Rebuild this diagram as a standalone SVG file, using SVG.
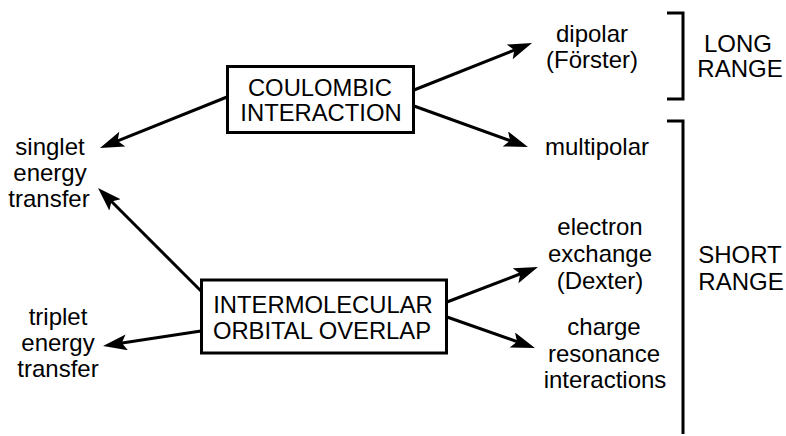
<svg xmlns="http://www.w3.org/2000/svg" width="786" height="436" viewBox="0 0 786 436">
<style>
text{font-family:"Liberation Sans",Arial,sans-serif;font-size:24px;fill:#000;text-anchor:middle}
.box{fill:#fff;stroke:#000;stroke-width:3}
.bt{font-size:23.8px}
.ln{stroke:#000;stroke-width:3;fill:none}
.ar{stroke:#000;stroke-width:3;fill:none;marker-end:url(#ah)}
</style>
<defs>
<marker id="ah" markerUnits="userSpaceOnUse" markerWidth="26" markerHeight="18" refX="13" refY="8" orient="auto" viewBox="0 0 26 18">
<path d="M0,0 L24,8 L0,16 L5,8 z" fill="#000"/>
</marker>
</defs>
<g id="connectors">
<line class="ar" x1="227" y1="97" x2="110.2" y2="143.9"/>
<line class="ar" x1="201" y1="291" x2="105.8" y2="195.8"/>
<line class="ar" x1="201" y1="331" x2="113.9" y2="344.3"/>
<line class="ar" x1="414" y1="90" x2="521.8" y2="47.1"/>
<line class="ar" x1="414" y1="106" x2="517.6" y2="143.3"/>
<line class="ar" x1="447" y1="302" x2="527.7" y2="271.0"/>
<line class="ar" x1="447" y1="317" x2="524.6" y2="344.3"/>
</g>
<g id="coulombic">
<rect class="box" x="227.5" y="66.5" width="186" height="66"/>
<text class="bt" x="320" y="96">COULOMBIC</text>
<text class="bt" x="321" y="121">INTERACTION</text>
</g>
<g id="intermolecular">
<rect class="box" x="201.5" y="280" width="245" height="73"/>
<text class="bt" x="323" y="313">INTERMOLECULAR</text>
<text class="bt" x="322" y="339">ORBITAL OVERLAP</text>
</g>
<g id="singlet">
<text x="50" y="155">singlet</text>
<text x="50" y="181">energy</text>
<text x="49" y="207">transfer</text>
</g>
<g id="triplet">
<text x="58" y="325">triplet</text>
<text x="58" y="351">energy</text>
<text x="58" y="377">transfer</text>
</g>
<g id="dipolar">
<text x="592" y="42">dipolar</text>
<text x="592" y="68">(Förster)</text>
</g>
<g id="multipolar">
<text x="597" y="155">multipolar</text>
</g>
<g id="electron">
<text x="600" y="235">electron</text>
<text x="600" y="262">exchange</text>
<text x="600" y="289">(Dexter)</text>
</g>
<g id="charge">
<text x="604" y="335">charge</text>
<text x="604" y="362">resonance</text>
<text x="605" y="388">interactions</text>
</g>
<g id="long-range">
<path class="ln" d="M667,13 H683 V99 H667"/>
<text x="738" y="52">LONG</text>
<text x="740" y="77">RANGE</text>
</g>
<g id="short-range">
<path class="ln" d="M667,121 H683 V434"/>
<text x="740" y="263">SHORT</text>
<text x="741" y="290">RANGE</text>
</g>
</svg>
